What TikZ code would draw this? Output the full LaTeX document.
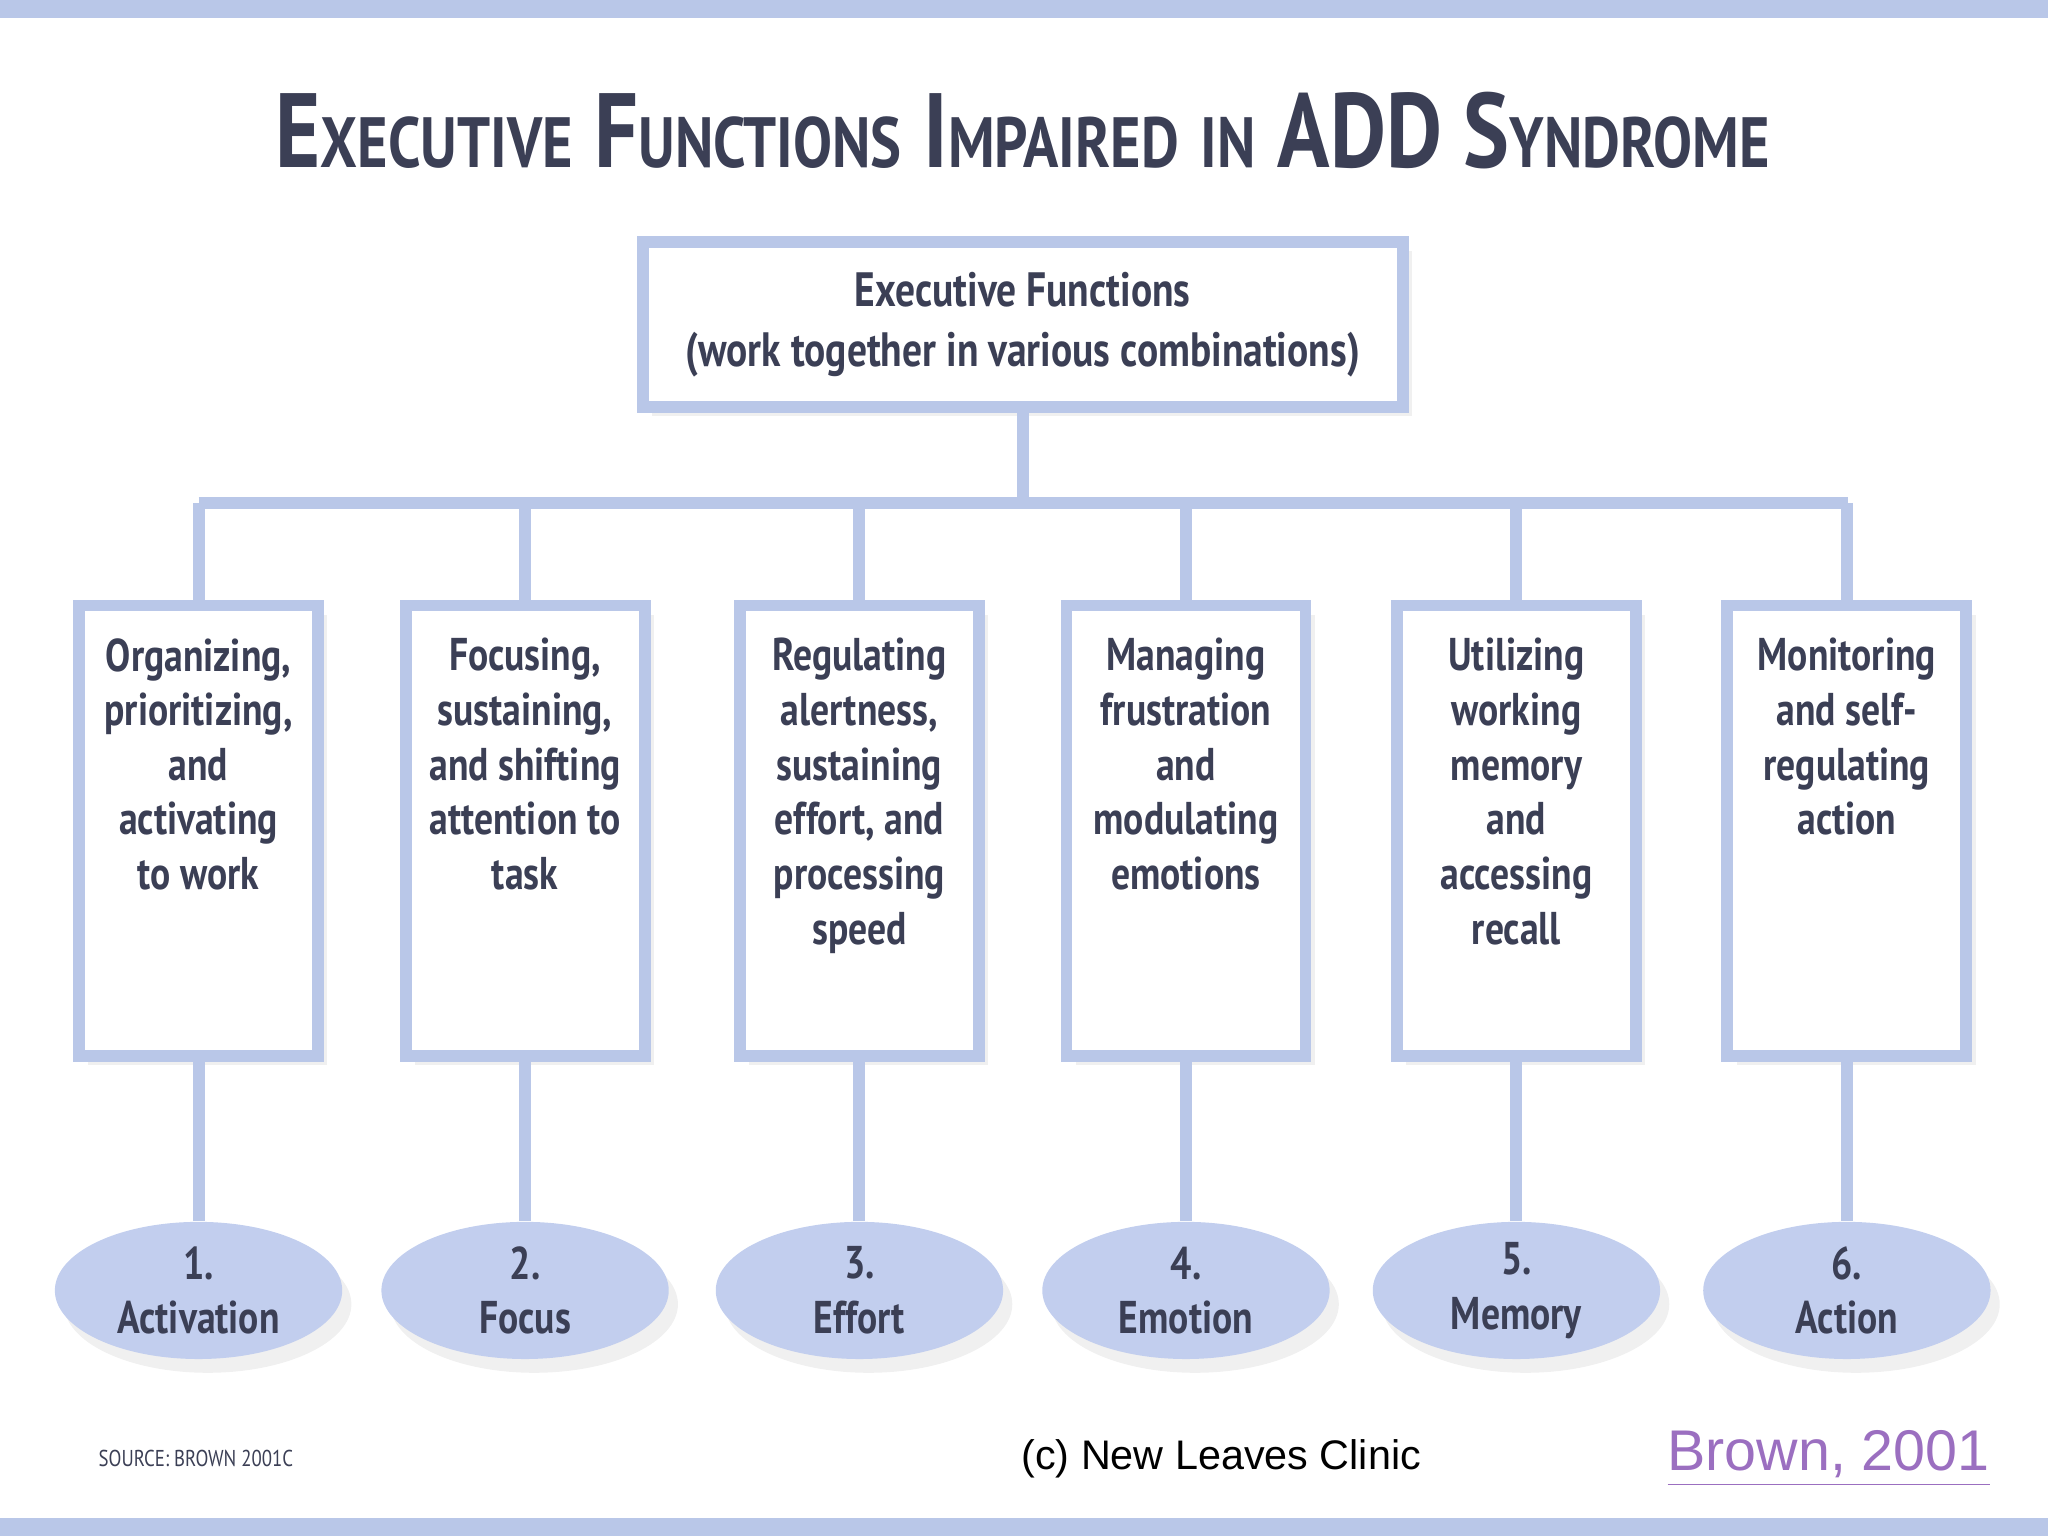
\documentclass[tikz,border=0pt]{standalone}
\usepackage{fontspec}
\setmainfont{PT Sans}[FakeStretch=0.82]
\newfontfamily\arialfont{Liberation Sans}
\usetikzlibrary{shadows,shapes.geometric}
\definecolor{efblue}{HTML}{B9C7E8}
\definecolor{effill}{HTML}{C2CEEE}
\definecolor{efink}{HTML}{3B3F55}
\definecolor{eflink}{HTML}{9B6FC0}
\newcommand{\efsc}[2]{#1{\fontsize{15.5}{15.5}\selectfont #2}}
\tikzset{
  fbox/.style={draw=efblue, line width=2.6pt, fill=white, minimum width=1.83cm,
    minimum height=3.45cm, text width=1.8cm, align=center, anchor=north,
    inner sep=0pt,
    drop shadow={opacity=0.12, shadow xshift=2pt, shadow yshift=-2pt}},
  fcirc/.style={ellipse, fill=effill, minimum width=2.2cm, minimum height=1.05cm,
    align=center, font=\bfseries\fontsize{10}{11.9}\selectfont, text=efink, inner sep=0pt,
    drop shadow={opacity=0.12, shadow xshift=2pt, shadow yshift=-3pt}},
  link/.style={draw=efblue, line width=2.6pt}
}
\begin{document}
\begin{tikzpicture}[x=1cm,y=-1cm]
\useasboundingbox (0,0) rectangle (15.68,11.76);
\fill[efblue] (0,0) rectangle (15.68,0.14);
\fill[efblue] (0,11.62) rectangle (15.68,11.76);
% title
\node[font=\bfseries\fontsize{23}{23}\selectfont, text=efink] (title) at (7.83,1.0)
  {\efsc{E}{XECUTIVE} \efsc{F}{UNCTIONS} \efsc{I}{MPAIRED} \efsc{}{IN} ADD \efsc{S}{YNDROME}};
% top box
\node[draw=efblue, line width=2.6pt, fill=white, minimum width=5.82cm, minimum height=1.26cm,
  align=center, font=\bfseries\fontsize{10.5}{13}\selectfont, text=efink,
  drop shadow={opacity=0.12, shadow xshift=2pt, shadow yshift=-2pt}] (ef) at (7.83,2.485)
  {Executive Functions\\(work together in various combinations)};
\coordinate (hub) at (7.83,3.85);
\draw[link] (ef.south) -- (hub);
\draw[link] (1.52,3.85) -- (14.15,3.85);
\foreach \x/\t/\n/\l [count=\i] in {
  1.52/{Organizing,\\prioritizing,\\and\\activating\\to work}/1./Activation,
  4.02/{Focusing,\\sustaining,\\and shifting\\attention to\\task}/2./Focus,
  6.58/{Regulating\\alertness,\\sustaining\\effort, and\\processing\\speed}/3./Effort,
  9.08/{Managing\\frustration\\and\\modulating\\emotions}/4./Emotion,
  11.61/{Utilizing\\working\\memory\\and\\accessing\\recall}/5./Memory,
  14.14/{Monitoring\\and self-\\regulating\\action}/6./Action}{
  \coordinate (top\i) at (\x,3.85);
  \node[fbox] (box\i) at (\x,4.59) {};
  \node[align=center, anchor=north, font=\bfseries\fontsize{10}{11.9}\selectfont, text=efink,
    inner sep=0pt] (txt\i) at (\x,4.88) {\t};
  \node[fcirc] (ell\i) at (\x,9.88) {\n\\\l};
  \draw[link] (top\i) -- (box\i.north);
  \draw[link] (box\i.south) -- (ell\i.north);
}
% footer
\node[font=\fontsize{5}{5}\selectfont, text=efink] (src) at (1.5,11.17) {SOURCE: BROWN 2001C};
\node[font=\arialfont\fontsize{9}{9}\selectfont] (clinic) at (9.35,11.17) {(c) New Leaves Clinic};
\node[font=\arialfont\fontsize{12.5}{12.5}\selectfont, text=eflink] (ref) at (14.0,11.17) {\underline{Brown, 2001}};
\end{tikzpicture}
\end{document}
